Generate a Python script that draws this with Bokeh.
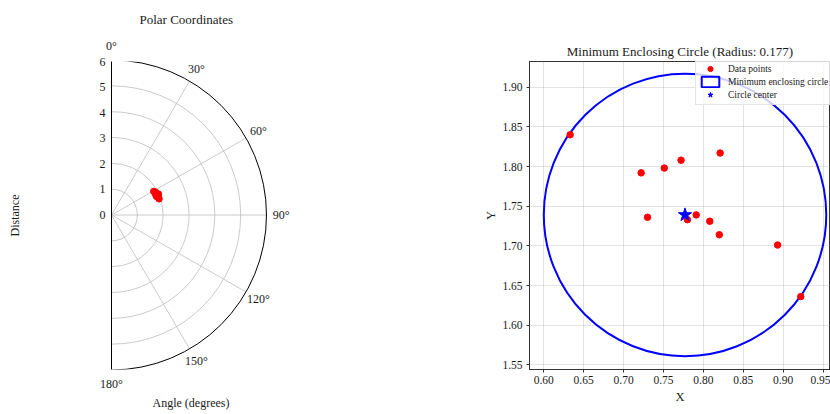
import numpy as np
from bokeh.plotting import figure
from bokeh.layouts import row
from bokeh.models import (Range1d, Legend, LegendItem, FixedTicker, Title,
                          NumeralTickFormatter, LinearAxis)
from bokeh.core.properties import value
from bokeh.embed import file_html
from bokeh.resources import INLINE

# ---------------- data ----------------
pts_x = [0.633, 0.722, 0.751, 0.772, 0.821, 0.730, 0.780, 0.791, 0.808, 0.820, 0.893, 0.922]
pts_y = [1.840, 1.792, 1.798, 1.808, 1.817, 1.736, 1.733, 1.739, 1.731, 1.714, 1.701, 1.636]
center_x = [0.777]
center_y = [1.739]
radius = 0.177

theta_ticks = [0, 30, 60, 90, 120, 150, 180]
r_ticks = [0, 1, 2, 3, 4, 5, 6]
x_ticks = [0.60, 0.65, 0.70, 0.75, 0.80, 0.85, 0.90, 0.95]
y_ticks = [1.55, 1.60, 1.65, 1.70, 1.75, 1.80, 1.85, 1.90]

FONT = "Liberation Serif"
TXT = "#1a1a1a"

H = 414
B_TOP, B_BOT = 61, 42
FRAME_H = H - B_TOP - B_BOT

# ---------------- polar panel ----------------
W1 = 378
POLE_X = 111                 # frame starts at the pole (0°/180° spine)
k = 25.83                    # px per radial unit
pole_y = 155                 # pole position from frame top
p1 = figure(width=W1, height=H,
            x_range=Range1d(0, (W1 - POLE_X) / k),
            y_range=Range1d(-(FRAME_H - pole_y) / k, pole_y / k),
            toolbar_location=None, output_backend="svg",
            min_border_left=POLE_X, min_border_right=0,
            min_border_top=B_TOP, min_border_bottom=B_BOT,
            outline_line_color=None)
p1.grid.visible = False


def style_plain_axis(ax, ticks, standoff):
    ax.ticker = FixedTicker(ticks=ticks)
    ax.axis_line_color = None
    ax.major_tick_line_color = None
    ax.minor_tick_line_color = None
    ax.major_tick_out = 0
    ax.major_tick_in = 0
    ax.minor_tick_out = 0
    ax.minor_tick_in = 0
    ax.major_label_text_font = FONT
    ax.major_label_text_font_size = "12px"
    ax.major_label_text_color = TXT
    ax.major_label_standoff = standoff


bot_ax = p1.xaxis[0]
style_plain_axis(bot_ax, [0], 7)
bot_ax.major_label_overrides = {0: f"{theta_ticks[-1]}°"}
top_ax = LinearAxis()
style_plain_axis(top_ax, [0], 9)
top_ax.major_label_overrides = {0: f"{theta_ticks[0]}°"}
p1.add_layout(top_ax, "above")

ttl = Title(text="Polar Coordinates", align="left", offset=28, standoff=17,
            text_font=FONT, text_font_size="13px", text_font_style="normal",
            text_color=TXT)
p1.add_layout(ttl, "above")

r_ax = p1.yaxis[0]
style_plain_axis(r_ax, r_ticks, 6)
r_ax.axis_line_color = "black"
r_ax.axis_line_width = 1
r_ax.axis_label = "Distance"
r_ax.axis_label_text_font = FONT
r_ax.axis_label_text_font_size = "12px"
r_ax.axis_label_text_font_style = "normal"
r_ax.axis_label_text_color = TXT
r_ax.axis_label_standoff = 75

xl = Title(text="Angle (degrees)", align="left", offset=41, standoff=5,
           vertical_align="top", text_font=FONT, text_font_size="12px",
           text_font_style="normal", text_color=TXT)
p1.add_layout(xl, "below")

rmax = r_ticks[-1]
grid_col = "#c4c4c4"
p1.arc(x=0, y=0, radius=r_ticks[1:-1], start_angle=-np.pi / 2, end_angle=np.pi / 2,
       direction="anticlock", line_color=grid_col, line_width=0.9)
th_inner = np.radians(theta_ticks[1:-1])
p1.segment(x0=0, y0=0, x1=rmax * np.sin(th_inner), y1=rmax * np.cos(th_inner),
           line_color=grid_col, line_width=0.9)
p1.arc(x=0, y=0, radius=rmax, start_angle=-np.pi / 2, end_angle=np.pi / 2,
       direction="anticlock", line_color="black", line_width=1)

lab_r = rmax + 0.57
p1.text(x=lab_r * np.sin(th_inner), y=lab_r * np.cos(th_inner),
        text=[f"{t}°" for t in theta_ticks[1:-1]], text_align="center", text_baseline="middle",
        text_font=value(FONT), text_font_size="12px", text_color=TXT)

px = np.array(pts_x)
py = np.array(pts_y)
rr = np.hypot(px, py)
tt = np.arctan2(py, px)
p1.scatter(rr * np.sin(tt), rr * np.cos(tt), size=6.5, color="#ff0000")

# ---------------- enclosing circle panel ----------------
W2 = 830 - W1
p2 = figure(width=W2, height=H,
            x_range=Range1d(0.5821, 0.9593), y_range=Range1d(1.5441, 1.9324),
            toolbar_location=None, output_backend="svg",
            min_border_left=529 - W1, min_border_right=0,
            min_border_top=B_TOP, min_border_bottom=B_BOT,
            title="Minimum Enclosing Circle (Radius: 0.177)")
p2.title.align = "center"
p2.title.offset = 5
p2.title.text_font = FONT
p2.title.text_font_size = "13px"
p2.title.text_font_style = "normal"
p2.title.text_color = TXT
p2.title.standoff = 5
p2.outline_line_color = "#333333"
p2.outline_line_width = 1
for ax, ticks in ((p2.xaxis, x_ticks), (p2.yaxis, y_ticks)):
    ax.ticker = FixedTicker(ticks=ticks)
    ax.formatter = NumeralTickFormatter(format="0.00")
    ax.major_label_text_font = FONT
    ax.major_label_text_font_size = "11.5px"
    ax.major_label_text_color = TXT
    ax.axis_line_color = "#333333"
    ax.major_tick_line_color = "#333333"
    ax.major_tick_out = 3
    ax.major_tick_in = 0
    ax.minor_tick_out = 0
    ax.minor_tick_in = 0
    ax.axis_label_text_font = FONT
    ax.axis_label_text_font_size = "12.5px"
    ax.axis_label_text_font_style = "normal"
    ax.axis_label_text_color = TXT
p2.xaxis.major_label_standoff = 3
p2.yaxis.major_label_standoff = 4
p2.xaxis.axis_label = "X"
p2.yaxis.axis_label = "Y"
p2.xaxis.axis_label_standoff = 3
p2.yaxis.axis_label_standoff = 1
p2.grid.grid_line_color = "#b0b0b0"
p2.grid.grid_line_alpha = 0.35

r_circ = p2.circle(x=center_x, y=center_y, radius=radius, fill_color=None,
                   line_color="#0000ff", line_width=2)
r_pts = p2.scatter(pts_x, pts_y, size=6.5, color="#ff0000")
r_star = p2.scatter(center_x, center_y, marker="star", size=14, color="#0000ff")
# legend proxy (not drawn in the plot area)
r_proxy = p2.rect(x=[float("nan")], y=[float("nan")], width=0.01, height=0.01,
                  fill_color=None, line_color="#0000ff", line_width=2)

legend = Legend(items=[LegendItem(label="Data points", renderers=[r_pts]),
                       LegendItem(label="Minimum enclosing circle", renderers=[r_proxy]),
                       LegendItem(label="Circle center", renderers=[r_star])],
                location=(166, 264))
legend.label_text_font = FONT
legend.label_text_font_size = "9.5px"
legend.label_text_color = TXT
legend.glyph_width = 22
legend.glyph_height = 13
legend.label_height = 13
legend.spacing = 0
legend.padding = 3
legend.margin = 0
legend.label_standoff = 7
legend.border_line_color = "#cccccc"
legend.background_fill_alpha = 0.8
p2.add_layout(legend)

layout = row(p1, p2)
open("out.html", "w").write(file_html(layout, INLINE))
